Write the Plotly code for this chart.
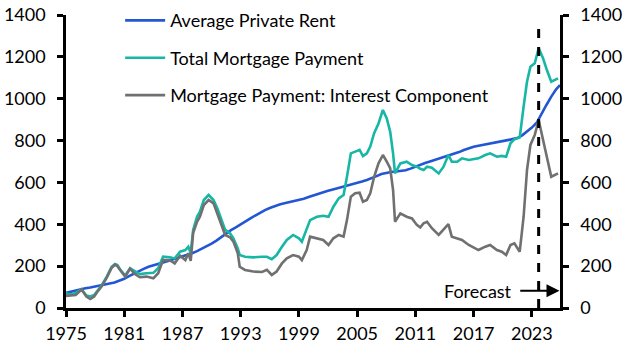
import plotly.graph_objects as go

# Average private rent (half-yearly readings)
rent_x = [1975.0, 1975.5, 1976.0, 1976.5, 1977.0, 1977.5, 1978.0, 1978.5, 1979.0, 1979.5,
          1980.0, 1980.5, 1981.0, 1981.5, 1982.0, 1982.5, 1983.0, 1983.5, 1984.0, 1984.5,
          1985.0, 1985.5, 1986.0, 1986.5, 1987.0, 1987.5, 1988.0, 1988.5, 1989.0, 1989.5,
          1990.0, 1990.5, 1991.0, 1991.5, 1992.0, 1992.5, 1993.0, 1993.5, 1994.0, 1994.5,
          1995.0, 1995.5, 1996.0, 1996.5, 1997.0, 1997.5, 1998.0, 1998.5, 1999.0, 1999.5,
          2000.0, 2000.5, 2001.0, 2001.5, 2002.0, 2002.5, 2003.0, 2003.5, 2004.0, 2004.5,
          2005.0, 2005.5, 2006.0, 2006.5, 2007.0, 2007.5, 2008.0, 2008.5, 2009.0, 2009.5,
          2010.0, 2010.5, 2011.0, 2011.5, 2012.0, 2012.5, 2013.0, 2013.5, 2014.0, 2014.5,
          2015.0, 2015.5, 2016.0, 2016.5, 2017.0, 2017.5, 2018.0, 2018.5, 2019.0, 2019.5,
          2020.0, 2020.5, 2021.0, 2021.5, 2022.0, 2022.5, 2023.0, 2023.5, 2024.0, 2024.5,
          2025.0, 2025.5, 2025.9]
rent = [72, 78, 84, 89, 94, 98, 102, 107, 112, 117,
        122, 130, 140, 152, 165, 177, 187, 197, 203, 210,
        217, 225, 232, 240, 248, 255, 262, 272, 283, 294,
        308, 322, 340, 356, 372, 385, 398, 414, 428, 442,
        456, 468, 478, 487, 494, 500, 505, 510, 515, 522,
        530, 538, 546, 553, 560, 566, 572, 578, 584, 590,
        597, 604, 612, 620, 630, 640, 646, 650, 652, 654,
        658, 666, 676, 685, 693, 700, 707, 714, 721, 728,
        736, 745, 755, 763, 770, 775, 779, 783, 788, 793,
        797, 802, 807, 812, 825, 843, 862, 885, 930, 970,
        1010, 1045, 1065]

# Mortgage payments (readings at irregular dates)
mort_x = [1975.0, 1975.5, 1976.0, 1976.6, 1977.1, 1977.5, 1977.9, 1978.2, 1978.7, 1979.2,
          1979.7, 1980.05, 1980.3, 1980.6, 1981.1, 1981.6, 1982.1, 1982.6, 1983.3, 1984.0,
          1984.5, 1985.0, 1985.7, 1986.2, 1986.75, 1987.3, 1987.6, 1987.85, 1988.1, 1988.5,
          1988.8, 1989.2, 1989.7, 1990.2, 1990.6, 1991.05, 1991.4, 1991.9, 1992.25, 1992.7,
          1992.9, 1993.45, 1994.3, 1995.2, 1995.7, 1996.2, 1996.7, 1997.25, 1997.75, 1998.4,
          1999.0, 1999.3, 1999.8, 2000.15, 2000.85, 2001.5, 2002.05, 2002.55, 2003.1, 2003.6,
          2003.95, 2004.35, 2004.8, 2005.25, 2005.6, 2006.0, 2006.35, 2006.75, 2007.2, 2007.65,
          2008.05, 2008.4, 2008.7, 2008.9, 2009.45, 2010.1, 2010.65, 2011.15, 2011.5, 2011.85,
          2012.2, 2012.7, 2013.4, 2013.9, 2014.4, 2014.75, 2015.3, 2015.8, 2016.5, 2017.5,
          2018.2, 2018.7, 2019.4, 2019.9, 2020.35, 2020.8, 2021.2, 2021.75, 2022.15, 2022.5,
          2022.85, 2023.3, 2023.7, 2024.15, 2024.55, 2025.0, 2025.7]
total_mortgage = [70, 65, 72, 89, 60, 55, 62, 78, 110, 150,
                  197, 210, 205, 182, 155, 190, 174, 162, 166, 168,
                  190, 245, 242, 237, 269, 277, 293, 262, 373, 436,
                  460, 516, 540, 516, 476, 420, 373, 357, 333, 285,
                  253, 245, 242, 245, 245, 233, 253, 293, 325, 349,
                  333, 317, 373, 420, 436, 441, 436, 484, 524, 540,
                  627, 739, 747, 755, 726, 739, 771, 835, 882, 946,
                  906, 843, 739, 643, 691, 699, 683, 675, 665, 659,
                  675, 670, 643, 675, 731, 699, 699, 715, 707, 715,
                  731, 739, 723, 727, 723, 787, 806, 815, 962, 1081,
                  1153, 1169, 1241, 1193, 1137, 1081, 1097]
interest_component = [58, 60, 62, 88, 55, 43, 55, 75, 105, 145,
                      192, 207, 200, 180, 150, 188, 162, 147, 150, 142,
                      166, 229, 228, 213, 250, 229, 262, 225, 358, 412,
                      436, 492, 516, 500, 452, 389, 349, 338, 317, 261,
                      197, 182, 174, 172, 182, 158, 174, 213, 237, 253,
                      245, 229, 277, 341, 333, 325, 301, 333, 349, 341,
                      420, 532, 548, 551, 508, 516, 548, 627, 691, 731,
                      699, 668, 564, 412, 452, 436, 428, 397, 385, 405,
                      412, 381, 349, 373, 401, 341, 333, 325, 301, 277,
                      293, 301, 277, 269, 253, 301, 309, 269, 436, 659,
                      779, 827, 898, 803, 707, 627, 643]

x_ticks = [1975, 1981, 1987, 1993, 1999, 2005, 2011, 2017, 2023]
y_ticks = [0, 200, 400, 600, 800, 1000, 1200, 1400]
forecast_start = 2023.7

FONT = "Lato"
FS = 18
fig = go.Figure()
fig.add_trace(go.Scatter(x=rent_x, y=rent, mode="lines", name="Average Private Rent",
                         legendgroup="a", line=dict(color="#2356D2", width=2.6)))
fig.add_trace(go.Scatter(x=mort_x, y=total_mortgage, mode="lines", name="Total Mortgage Payment",
                         legendgroup="b", line=dict(color="#17B6A5", width=2.6)))
fig.add_trace(go.Scatter(x=mort_x, y=interest_component, mode="lines",
                         name="Mortgage Payment: Interest Component",
                         legendgroup="c", line=dict(color="#707070", width=2.6)))
# invisible trace to carry the right axis
fig.add_trace(go.Scatter(x=[x_ticks[0]], y=[0], yaxis="y2", mode="markers",
                         marker=dict(opacity=0), showlegend=False, hoverinfo="skip"))

fig.add_shape(type="line", x0=forecast_start, x1=forecast_start, y0=0, y1=1360,
              xref="x", yref="y", line=dict(color="black", width=3, dash="dash"))

fig.add_annotation(x=2025.85, y=83, ax=2021.65, ay=83, axref="x", ayref="y", xref="x", yref="y",
                   text="", showarrow=True, arrowhead=2, arrowsize=1.3, arrowwidth=2,
                   arrowcolor="black")
fig.add_annotation(x=2021.2, y=83, xref="x", yref="y", text="Forecast", showarrow=False,
                   xanchor="right", yanchor="middle", font=dict(family=FONT, size=FS, color="black"))

axis_common = dict(showgrid=False, zeroline=False, showline=True, linecolor="black",
                   linewidth=2.5, ticks="outside", ticklen=6, tickwidth=2.5, tickcolor="black",
                   automargin=False,
                   tickfont=dict(family=FONT, size=FS, color="black"))

fig.update_layout(
    width=629, height=355,
    margin=dict(l=66, r=69, t=15, b=47, autoexpand=False),
    paper_bgcolor="white", plot_bgcolor="white",
    font=dict(family=FONT, size=FS, color="black"),
    showlegend=True,
    legend=dict(x=0.191, y=0.994, xref="container", yref="container",
                xanchor="left", yanchor="top", bgcolor="rgba(0,0,0,0)",
                font=dict(family=FONT, size=FS, color="black"), traceorder="grouped",
                tracegroupgap=11, itemwidth=40),
    xaxis=dict(range=[1975, 2025.9], tickvals=x_ticks, ticktext=[str(t) for t in x_ticks],
               ticklabelstandoff=2, **axis_common),
    yaxis=dict(range=[0, 1400], tickvals=y_ticks, ticklabelstandoff=8, **axis_common),
    yaxis2=dict(range=[0, 1400], tickvals=y_ticks, overlaying="y", side="right",
                ticklabelstandoff=8, **axis_common),
)

fig.write_html("out.html", config={"displayModeBar": False},
               post_script="document.body.style.margin='0px';document.body.style.overflow='hidden';")
